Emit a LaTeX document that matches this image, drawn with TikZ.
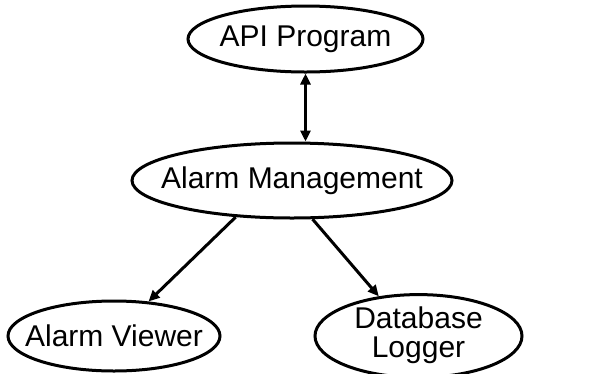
\documentclass[tikz,border=0pt]{standalone}
\usepackage{fontspec}
\setmainfont{Liberation Sans}
\usepackage{tikz}
\usetikzlibrary{arrows.meta,shapes.geometric}

\begin{document}
\begin{tikzpicture}[
    x=1pt, y=1pt,
    bubble/.style={draw, ellipse, line width=3pt, inner sep=0pt,
                   font=\fontsize{30}{27}\selectfont},
    arr/.style={-{Triangle[length=11pt,width=10pt]}, line width=3pt},
    dbl/.style={{Triangle[length=11pt,width=10pt]}-{Triangle[length=11pt,width=10pt]}, line width=3pt}
  ]
  \useasboundingbox (0,0) rectangle (589,-373);
  % Ellipses
  \node[bubble, minimum width=235pt, minimum height=66pt] (api) at (305.5,-39)
    {\makebox[0pt]{API Program}};
  \node[bubble, minimum width=320pt, minimum height=75pt] (am) at (292,-180.5)
    {\makebox[0pt]{Alarm Management}};
  \node[bubble, minimum width=212pt, minimum height=70pt] (av) at (114,-336)
    {\makebox[0pt]{Alarm Viewer}};
  \node[bubble, minimum width=207pt, minimum height=70pt] (dl) at (418.5,-336)
    {\makebox[0pt]{\begin{tabular}{@{}c@{}}Database\\Logger\end{tabular}}};
  % Connectors
  \draw[dbl] (api.south) -- (api.south |- am.north);
  \draw[arr] (am.213) -- (av.45);
  \draw[arr] (am.298) -- (dl.135);
\end{tikzpicture}
\end{document}
